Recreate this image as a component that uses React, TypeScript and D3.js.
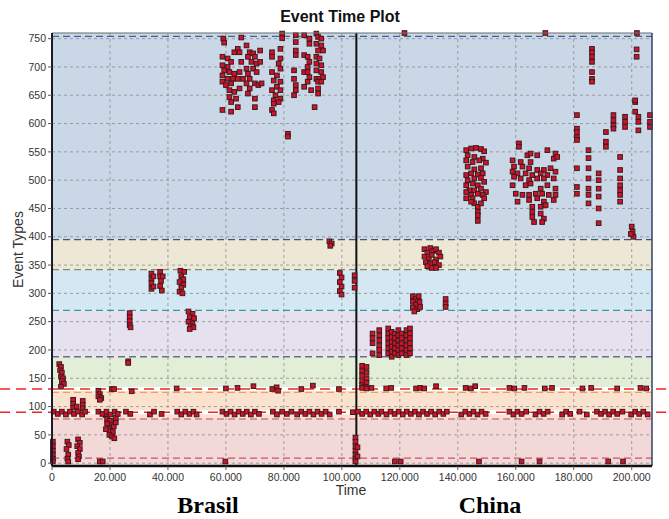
import * as d3 from 'd3';

// Event Time Plot: event types (y) against time (x), Brasil then China

const W = 669;
const H = 519;
const margin = { top: 33, right: 17, bottom: 53, left: 52 };

// colored event-type bands
const bandLows = [-5, 78, 133, 188, 270, 342, 395];
const bandHighs = [78, 133, 188, 270, 342, 395, 760];
const bandFills = ['#f3d8d8', '#fbe2cf', '#e2eed6', '#e6e1ef', '#d3e8f3', '#ede8d6', '#cad7e7'];

// dashed band borders
const borderValues = [9, 78, 125, 188, 270, 342, 395, 754];
const borderColors = ['#d0506e', '#d47890', '#f0a050', '#6c6c94', '#3c9a9c', '#8a8a6c', '#4a5468', '#3e6490'];

// red reference lines
const redLines = [131, 90];

const countrySplit = 105000;

const yTicks = d3.range(0, 751, 50);
const xTicks = d3.range(0, 200001, 20000);

// ---- points [time, event type] ----
const brasilTop: [number, number][] = [
  [59100, 750], [59400, 743], [65300, 752], [62900, 726], [64100, 732], [64700, 726], [58800, 718], [60600, 715],
  [61800, 709], [65300, 709], [58800, 703], [60600, 700], [59400, 694], [61200, 691], [62900, 688], [64700, 691],
  [58800, 685], [60600, 679], [62400, 679], [64100, 679], [65900, 679], [58800, 674], [60000, 668], [61800, 671],
  [61200, 659], [62900, 656], [64700, 662], [61200, 647], [63500, 644], [61800, 638], [64100, 629], [58800, 624],
  [61800, 621], [67100, 738], [68200, 726], [69400, 724], [67600, 718], [70000, 718], [68800, 709], [70600, 706],
  [67100, 697], [69400, 697], [67600, 688], [70600, 691], [68200, 679], [67100, 671], [70000, 671], [68200, 662],
  [71200, 668], [67600, 653], [70000, 644], [70000, 629], [71800, 729], [71800, 709], [72300, 671],
];

const brasilMid: [number, number][] = [
  [75900, 726], [78800, 732], [75900, 718], [78800, 715], [78200, 706], [78800, 697], [75900, 691], [77600, 685],
  [76500, 676], [78800, 674], [77600, 665], [75900, 659], [78800, 659], [77100, 650], [78800, 644], [76500, 641],
  [76500, 635], [78200, 638], [75900, 624], [76500, 618], [79400, 759], [79400, 751], [81400, 582], [81400, 577],
];

const brasilRight: [number, number][] = [
  [84100, 756], [84100, 744], [84100, 729], [84100, 721], [83500, 694], [83500, 679], [84100, 668], [84100, 659],
  [83500, 650], [87000, 756], [88800, 750], [88800, 741], [87000, 721], [88200, 718], [88800, 709], [88200, 700],
  [87000, 691], [88200, 691], [88800, 682], [87000, 665], [89400, 659], [88200, 674], [91200, 759], [91800, 753],
  [92900, 750], [91200, 741], [92900, 738], [91800, 729], [93500, 729], [91200, 718], [92300, 715], [91200, 706],
  [92900, 703], [91200, 694], [92900, 691], [91200, 679], [92300, 679], [93500, 682], [91800, 674], [92900, 674],
  [91800, 662], [91800, 653], [90600, 629],
];

const brasilMiddleBands: [number, number][] = [
  [34300, 335], [34300, 326], [34300, 318], [34300, 308], [35000, 330], [35000, 312], [37300, 338], [37300, 330],
  [37600, 322], [37300, 313], [37900, 305], [38200, 330], [44300, 340], [45600, 338], [44600, 330], [45300, 325],
  [44000, 320], [45300, 315], [44600, 310], [44000, 303], [45000, 300], [26800, 265], [26800, 258], [26800, 251],
  [26800, 244], [27100, 240], [47100, 268], [48500, 264], [47500, 258], [49000, 256], [47100, 250], [48500, 247],
  [47800, 242], [48800, 240], [47500, 237], [26300, 180], [26300, 177], [95700, 392], [96500, 388], [96000, 384],
  [99300, 336], [99900, 328], [99300, 320], [99900, 312], [99300, 304], [99900, 298],
];

const brasilLow: [number, number][] = [
  [2500, 175], [3100, 170], [2800, 164], [3400, 160], [3100, 153], [3800, 150], [3400, 145], [4100, 140], [3100, 135],
  [7300, 112], [7300, 105], [7300, 98], [10600, 110], [10600, 103], [10600, 97], [8500, 100],
  [16000, 128], [16500, 122], [16000, 118], [17000, 115], [16500, 112],
  [18500, 85], [19000, 78], [20000, 75], [19000, 70], [20600, 68], [19500, 62], [21300, 65], [20000, 57], [21000, 55],
  [19800, 50], [20700, 47], [21500, 44], [22000, 72], [22000, 80], [18600, 60],
  [300, 38], [300, 30], [300, 22], [300, 15], [300, 8], [300, 3], [5300, 38], [5800, 32], [5000, 25], [5600, 15],
  [5300, 8], [5600, 3], [9000, 42], [9600, 36], [8700, 30], [9600, 25], [9000, 18], [9300, 12], [9000, 7],
  [16500, 3], [17500, 3], [59800, 3],
];

const brasilRow: [number, number][] = [
  [600, 91], [2000, 87], [3400, 91], [4800, 86], [6200, 91], [7600, 87], [9000, 91], [10400, 86], [11400, 91],
  [16000, 91], [17400, 87], [18800, 91], [20200, 86], [21600, 91], [22700, 87], [25500, 91], [27000, 87],
  [33800, 86], [35200, 91], [37800, 87], [43200, 91], [44600, 86], [46000, 91], [47400, 87], [48800, 91], [49900, 86],
  [58800, 91], [60200, 87], [61600, 91], [63000, 86], [64400, 91], [65800, 87], [67200, 91], [68600, 86], [70000, 91],
  [71400, 87], [76200, 91], [77600, 86], [79400, 91], [81000, 87], [82600, 91], [84600, 86], [86000, 91], [87400, 87],
  [88800, 91], [90200, 86], [91600, 91], [93000, 87], [94400, 91], [95800, 86], [99000, 91], [103800, 90],
  [20600, 131], [21400, 131], [27500, 127], [43000, 132], [60000, 132], [64000, 133], [69500, 136], [76000, 131],
  [77500, 134], [78000, 128], [86000, 131], [90000, 137], [99000, 131],
];

const splitPoints: [number, number][] = [
  [104700, 45], [104700, 38], [104700, 30], [104700, 22], [104700, 15], [104700, 8], [104700, 3], [105400, 28],
  [105400, 12], [104400, 332], [104400, 322], [104400, 310],
];

const chinaLow: [number, number][] = [
  [107000, 172], [108500, 170], [107000, 163], [108500, 160], [107000, 155], [108500, 150], [107000, 145],
  [108500, 142], [107000, 138], [108000, 135],
  [110600, 229], [110600, 221], [110600, 212], [110600, 194],
  [112900, 235], [112900, 226], [112900, 217], [112900, 208], [112900, 200], [112900, 191],
  [116000, 238], [116000, 229], [116000, 221], [116000, 212], [116000, 203], [116000, 194],
  [117200, 232], [117200, 223], [117200, 214], [117200, 206], [117200, 197], [117200, 188],
  [118300, 229], [118300, 221], [118300, 212], [118300, 203], [118300, 194],
  [119500, 235], [119500, 226], [119500, 217], [119500, 208], [119500, 200], [119500, 191],
  [120600, 229], [120600, 221], [120600, 212], [120600, 203], [120600, 194],
  [122300, 235], [122300, 226], [122300, 217], [122300, 208], [122300, 200], [122300, 191],
  [123500, 238], [123500, 229], [123500, 221], [123500, 212], [123500, 203], [123500, 194],
  [124500, 295], [125500, 290], [126500, 295], [124500, 285], [125500, 280], [126800, 285], [124500, 275],
  [126000, 272], [125000, 268], [127000, 276], [135800, 290], [135800, 282], [135800, 276],
  [128500, 378], [129500, 372], [130500, 380], [131500, 375], [132500, 378], [133500, 372], [128500, 365],
  [130000, 362], [131000, 368], [132500, 360], [134000, 365], [129000, 355], [130500, 352], [132000, 355],
  [133500, 350], [131000, 345], [129500, 348], [132500, 345],
  [118300, 3], [120300, 3], [147300, 3], [162000, 3], [168200, 3], [191900, 3], [197000, 3],
];

const chinaRow: [number, number][] = [
  [105600, 91], [107000, 87], [108400, 91], [109800, 86], [111200, 91], [112600, 87], [113600, 91],
  [115400, 86], [116800, 91], [118200, 87], [119600, 91], [121000, 86], [122400, 91], [123800, 87], [125200, 91],
  [126600, 86], [128000, 91], [129400, 87], [130800, 91], [132200, 86], [133600, 91], [135000, 87], [136200, 91],
  [141200, 86], [142600, 91], [144000, 87], [145400, 91], [146800, 86], [148200, 91], [149600, 87],
  [157800, 91], [159200, 86], [160600, 91], [162000, 87], [163600, 91], [166800, 86], [168200, 91], [169600, 87],
  [171000, 91], [176000, 86], [177400, 91], [178800, 87], [182000, 91], [184500, 86], [188000, 91], [189400, 87],
  [190800, 91], [192200, 86], [193600, 91], [195000, 87], [196800, 91], [199800, 86], [201200, 91], [202600, 87],
  [204000, 91], [205500, 86],
  [107000, 133], [108500, 132], [110200, 133], [115300, 132], [117000, 133], [125600, 132], [127000, 133],
  [128400, 132], [132500, 136], [142700, 133], [144500, 132], [146000, 136], [157800, 133], [159500, 132],
  [163000, 133], [170000, 132], [172500, 133], [183000, 132], [186000, 133], [195000, 132], [203000, 133],
  [205000, 132],
];

const chinaUpper: [number, number][] = [
  [142900, 553], [144600, 556], [146300, 557], [148000, 555], [149100, 551], [143400, 544], [145700, 541],
  [148600, 538], [142900, 535], [145100, 532], [147400, 535], [149700, 531], [143400, 524], [145700, 519],
  [148000, 521], [144600, 512], [146900, 510], [148600, 512], [142900, 509], [143400, 500], [145700, 503],
  [148000, 504], [149100, 497], [142900, 491], [145100, 494], [146900, 491], [144000, 482], [145700, 482],
  [148000, 485], [149700, 479], [142900, 479], [144600, 474], [146900, 476], [148600, 474], [142900, 468],
  [145100, 468], [149100, 468], [145700, 459], [146900, 453], [146900, 444], [146900, 438], [146900, 428],
  [144600, 462], [148000, 459],
  [161100, 565], [161100, 559], [164000, 544], [165100, 547], [167400, 544], [170900, 553], [173700, 547],
  [158900, 535], [161700, 532], [165100, 532], [173100, 538], [174300, 541], [159400, 524], [162300, 524],
  [164600, 521], [167400, 518], [169700, 518], [172000, 521], [158900, 515], [160600, 512], [163400, 512],
  [165700, 509], [168600, 512], [170900, 509], [173700, 515], [159400, 506], [161700, 503], [164600, 500],
  [167400, 503], [169700, 503], [173100, 503], [158900, 491], [163400, 491], [165100, 494], [168600, 485],
  [170900, 491], [173700, 485], [160000, 476], [162300, 474], [164600, 474], [166900, 476], [169100, 476],
  [171400, 474], [173700, 474], [160600, 462], [164600, 465], [167400, 468], [169700, 462], [173100, 465],
  [165700, 453], [168600, 453], [170300, 456], [165700, 444], [168600, 441], [165700, 435], [169700, 432],
  [166300, 426], [169100, 426],
  [181100, 615], [181100, 591], [181100, 585], [181100, 576], [181100, 571], [181100, 521], [181100, 488],
  [181100, 476], [185100, 553], [185100, 539], [185100, 521], [185100, 503], [185100, 485], [185100, 474],
  [185100, 459], [188600, 512], [188600, 500], [188600, 485], [188600, 471], [188600, 450], [188600, 424],
  [191100, 585], [191100, 568], [191100, 559], [193700, 615], [193700, 606], [193700, 597], [193700, 591],
  [196000, 541], [196000, 518], [196000, 503], [196000, 491], [196000, 482], [196000, 474], [196000, 462],
  [197700, 612], [197700, 603], [197700, 594], [201200, 638], [201200, 621], [202300, 612], [202300, 603],
  [202300, 588], [200000, 418], [200300, 409], [200600, 400], [199700, 405], [206300, 615], [206300, 603],
  [206300, 594],
  [186300, 732], [186300, 726], [186300, 718], [186300, 709], [186300, 691], [186300, 679], [186300, 674],
  [201700, 731], [201700, 718], [201200, 641], [121600, 760], [170200, 760], [201800, 760],
];

const allPoints = [
  ...brasilTop, ...brasilMid, ...brasilRight, ...brasilMiddleBands, ...brasilLow, ...brasilRow,
  ...splitPoints, ...chinaLow, ...chinaRow, ...chinaUpper,
];

const fmtTime = (v: number) => (v === 0 ? '0' : d3.format(',')(v).replace(/,/g, '.'));

const App = () => {
  const x = d3.scaleLinear().domain([0, 207000]).range([margin.left, W - margin.right]);
  const y = d3.scaleLinear().domain([-5, 760]).range([H - margin.bottom, margin.top]);
  const x0 = margin.left;
  const x1 = W - margin.right;
  const y0 = margin.top;
  const y1 = H - margin.bottom;
  const sans = 'Liberation Sans, Arial, Helvetica, sans-serif';
  const serif = 'Liberation Serif, Times New Roman, serif';
  const sq = 4.6;

  return (
    <svg width={W} height={H} style={{ position: 'absolute', left: 0, top: 0, background: '#fff' }}>
      {/* bands */}
      {bandLows.map((lo, i) => (
        <rect key={'b' + i} x={x0} width={x1 - x0} y={y(bandHighs[i])} height={y(lo) - y(bandHighs[i])} fill={bandFills[i]} />
      ))}

      {/* grid */}
      {yTicks.map((t) => (
        <line key={'gy' + t} x1={x0} x2={x1} y1={y(t)} y2={y(t)} stroke="#8c8c8c" strokeWidth={0.8} strokeDasharray="3,3" />
      ))}
      {xTicks.map((t) => (
        <line key={'gx' + t} x1={x(t)} x2={x(t)} y1={y0} y2={y1} stroke="#8c8c8c" strokeWidth={0.8} strokeDasharray="3,3" />
      ))}

      {/* band borders */}
      {borderValues.map((v, i) => (
        <line key={'bl' + i} x1={x0} x2={x1} y1={y(v)} y2={y(v)} stroke={borderColors[i]} strokeWidth={1.4} strokeDasharray="7,4" />
      ))}

      {/* red reference lines */}
      {redLines.map((v) => (
        <g key={'r' + v}>
          <line x1={0} x2={W} y1={y(v)} y2={y(v)} stroke="#fff" strokeWidth={4} />
          <line x1={0} x2={W} y1={y(v)} y2={y(v)} stroke="#e8282c" strokeWidth={1.6} strokeDasharray="10,6" />
        </g>
      ))}

      {/* country split */}
      <line x1={x(countrySplit)} x2={x(countrySplit)} y1={y0} y2={y1} stroke="#111" strokeWidth={2} />

      {/* points */}
      {allPoints.map(([t, v], i) => (
        <rect
          key={'p' + i}
          x={x(t) - sq / 2}
          y={y(v) - sq / 2}
          width={sq}
          height={sq}
          fill="#d4112c"
          stroke="#3a1c1c"
          strokeWidth={1}
        />
      ))}

      {/* frame */}
      <line x1={x0} x2={x1} y1={y0} y2={y0} stroke="#6a6a6a" strokeWidth={1} />
      <line x1={x1} x2={x1} y1={y0} y2={y1} stroke="#34406a" strokeWidth={1.5} />
      <line x1={x0} x2={x0} y1={y0} y2={y1} stroke="#1a1a2e" strokeWidth={2} />
      <line x1={x0} x2={x1} y1={y1} y2={y1} stroke="#111" strokeWidth={2.5} />

      {/* y axis */}
      {yTicks.map((t) => (
        <g key={'ty' + t}>
          <line x1={x0 - 4} x2={x0} y1={y(t)} y2={y(t)} stroke="#555" strokeWidth={1} />
          <text x={x0 - 6} y={y(t)} dy="0.35em" textAnchor="end" fontFamily={sans} fontSize={10.5} fill="#333">
            {t}
          </text>
        </g>
      ))}
      {/* x axis */}
      {xTicks.map((t) => (
        <g key={'tx' + t}>
          <line x1={x(t)} x2={x(t)} y1={y1} y2={y1 + 4} stroke="#555" strokeWidth={1} />
          <text x={x(t)} y={y1 + 15} textAnchor="middle" fontFamily={sans} fontSize={10.5} fill="#333">
            {fmtTime(t)}
          </text>
        </g>
      ))}

      <text x={340} y={22} textAnchor="middle" fontFamily={sans} fontWeight="bold" fontSize={16} fill="#111">
        Event Time Plot
      </text>
      <text x={351} y={495} textAnchor="middle" fontFamily={sans} fontSize={14} fill="#333">
        Time
      </text>
      <text transform={`translate(23,${(y0 + y1) / 2}) rotate(-90)`} textAnchor="middle" fontFamily={sans} fontSize={14} fill="#333">
        Event Types
      </text>
      <text x={208} y={513} textAnchor="middle" fontFamily={serif} fontWeight="bold" fontSize={24} fill="#000">
        Brasil
      </text>
      <text x={490} y={513} textAnchor="middle" fontFamily={serif} fontWeight="bold" fontSize={24} fill="#000">
        China
      </text>
    </svg>
  );
};

export default App;
